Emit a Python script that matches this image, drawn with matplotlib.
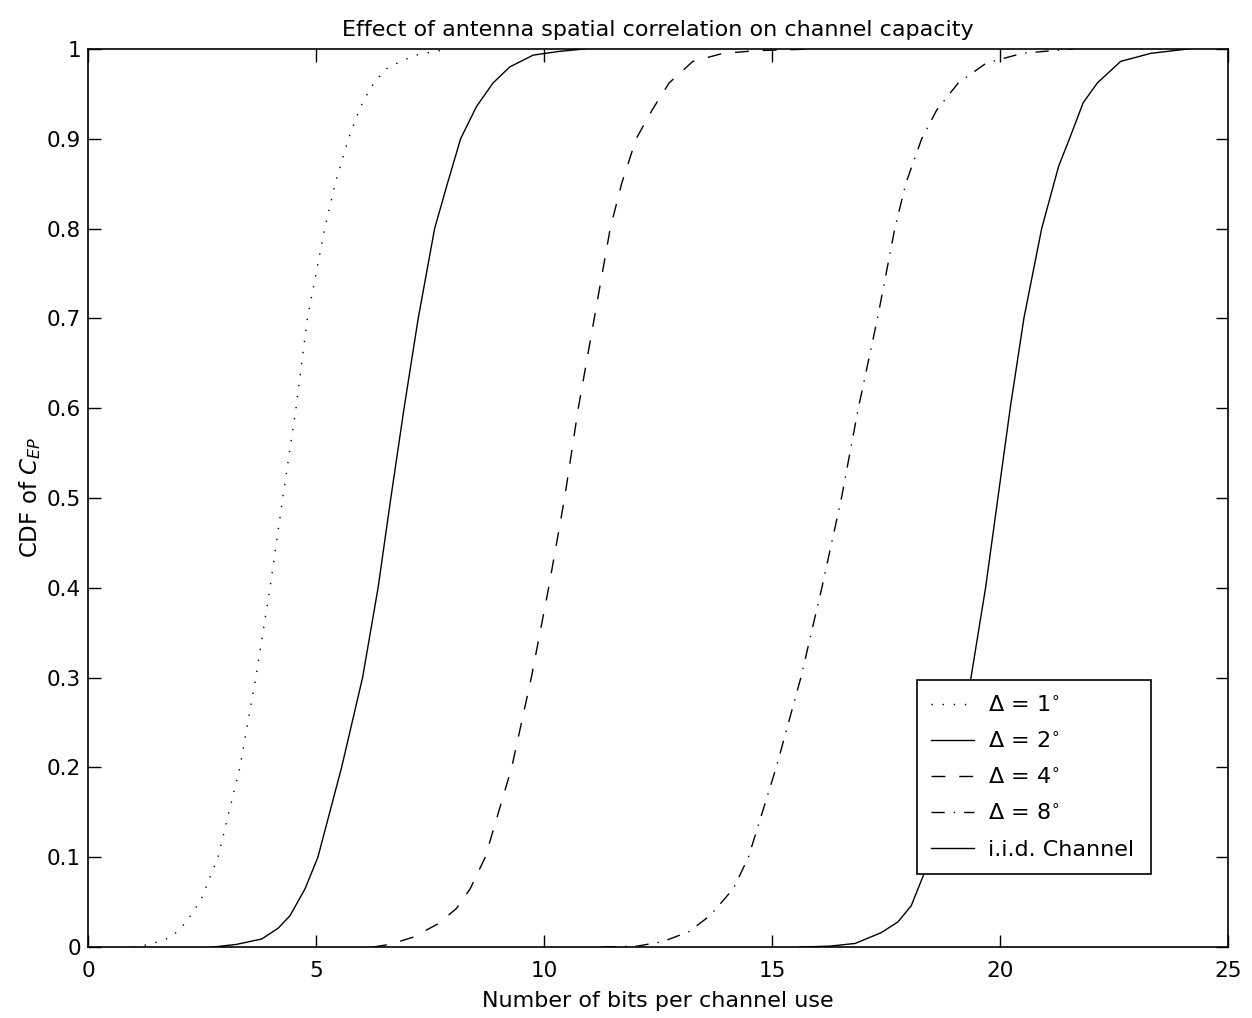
import matplotlib
matplotlib.use('Agg')
import matplotlib.pyplot as plt

plt.rcParams['font.family'] = ['DejaVu Sans']
plt.rcParams['mathtext.fontset'] = 'dejavusans'

# CDF curves (bits per channel use, CDF value)
d1_x = [1.0, 1.36, 1.83, 2.16, 2.48, 2.85, 3.33, 3.68, 3.99, 4.27, 4.56, 4.81, 5.19, 5.42, 5.71, 5.96, 6.2, 6.51, 6.85, 7.19, 7.9]
d1_y = [0.0, 0.003, 0.011, 0.028, 0.053, 0.1, 0.2, 0.3, 0.4, 0.5, 0.6, 0.7, 0.8, 0.85, 0.9, 0.934, 0.957, 0.977, 0.986, 0.993, 1.0]

d2_x = [2.74, 3.26, 3.81, 4.17, 4.43, 4.76, 5.04, 5.56, 6.02, 6.36, 6.64, 6.93, 7.24, 7.6, 7.88, 8.17, 8.52, 8.88, 9.25, 9.76, 10.3, 10.9]
d2_y = [0.0, 0.003, 0.009, 0.021, 0.035, 0.065, 0.1, 0.2, 0.3, 0.4, 0.5, 0.6, 0.7, 0.8, 0.85, 0.9, 0.936, 0.962, 0.98, 0.993, 0.997, 1.0]

d4_x = [6.25, 6.62, 7.13, 7.68, 8.08, 8.38, 8.71, 9.29, 9.72, 10.1, 10.45, 10.75, 11.1, 11.45, 11.7, 12.02, 12.37, 12.74, 13.26, 13.92, 14.67, 15.98]
d4_y = [0.0, 0.003, 0.011, 0.026, 0.043, 0.065, 0.1, 0.2, 0.3, 0.4, 0.5, 0.6, 0.7, 0.8, 0.85, 0.9, 0.932, 0.962, 0.986, 0.995, 0.998, 1.0]

d8_x = [11.29, 12.04, 12.6, 13.17, 13.64, 14.15, 14.48, 15.09, 15.63, 16.09, 16.52, 16.89, 17.31, 17.69, 17.93, 18.28, 18.61, 19.08, 19.69, 20.48, 21.6]
d8_y = [0.0, 0.001, 0.006, 0.017, 0.035, 0.065, 0.1, 0.2, 0.3, 0.4, 0.5, 0.6, 0.7, 0.8, 0.85, 0.9, 0.932, 0.962, 0.984, 0.995, 1.0]

iid_x = [15.6, 16.26, 16.82, 17.39, 17.76, 18.05, 18.31, 18.45, 18.95, 19.36, 19.68, 19.95, 20.22, 20.52, 20.91, 21.28, 21.52, 21.82, 22.13, 22.64, 23.3, 24.14]
iid_y = [0.0, 0.001, 0.004, 0.016, 0.028, 0.046, 0.079, 0.1, 0.2, 0.3, 0.4, 0.5, 0.6, 0.7, 0.8, 0.869, 0.9, 0.94, 0.962, 0.986, 0.995, 1.0]

labels = [r'$\Delta$ = 1$^{\circ}$', r'$\Delta$ = 2$^{\circ}$', r'$\Delta$ = 4$^{\circ}$',
          r'$\Delta$ = 8$^{\circ}$', 'i.i.d. Channel']

fig = plt.figure(figsize=(12.52, 10.18), dpi=100)
ax = fig.add_axes([0.0703, 0.0697, 0.9107, 0.8823])

lw = 1.0
ax.plot(d1_x, d1_y, color='k', lw=lw, ls=(0, (1, 7)), label=labels[0])
ax.plot(d2_x, d2_y, color='k', lw=lw, ls='-', label=labels[1])
ax.plot(d4_x, d4_y, color='k', lw=lw, ls=(0, (10, 10)), label=labels[2])
ax.plot(d8_x, d8_y, color='k', lw=lw, ls=(0, (9.5, 6.5, 1, 6.5)), label=labels[3])
ax.plot(iid_x, iid_y, color='k', lw=lw, ls='-', label=labels[4])

ax.set_xlim(0, 25)
ax.set_ylim(0, 1)
ax.set_xticks([0, 5, 10, 15, 20, 25])
ax.set_yticks([i / 10 for i in range(11)])
ax.set_yticklabels(['0', '0.1', '0.2', '0.3', '0.4', '0.5', '0.6', '0.7', '0.8', '0.9', '1'])
ax.tick_params(direction='in', length=9, width=1, labelsize=15.5, top=True, right=True)
ax.tick_params(axis='x', pad=10)
ax.tick_params(axis='y', pad=5)
for s in ax.spines.values():
    s.set_linewidth(1.2)

ax.set_title('Effect of antenna spatial correlation on channel capacity', fontsize=16, pad=9)
ax.set_xlabel('Number of bits per channel use', fontsize=16, labelpad=7)
ax.set_ylabel(r'CDF of $C_{EP}$', fontsize=16.5, labelpad=3)

leg = ax.legend(loc='upper left', bbox_to_anchor=(0.727, 0.082, 0.205, 0.215), mode='expand',
                fontsize=16, frameon=True, fancybox=False, edgecolor='k', framealpha=1,
                handlelength=1.9, handletextpad=0.65, borderpad=0.65, borderaxespad=0,
                labelspacing=0.7)
leg.get_frame().set_linewidth(1.2)

fig.savefig('out.png', dpi=100)
